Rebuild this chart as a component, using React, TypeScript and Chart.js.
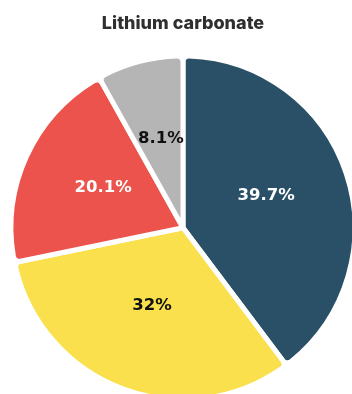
import React, { useEffect, useRef } from "react";
import { Chart, registerables } from "chart.js";

Chart.register(...registerables);

const title = "Lithium carbonate";
const categories = ["A", "B", "C", "D"];
const shares = [39.7, 32, 20.1, 8.1];
const labels = ["39.7%", "32%", "20.1%", "8.1%"];
const colors = ["#2a5068", "#fae04c", "#ec534c", "#b4b5b4"];
const labelColors = ["#ffffff", "#111111", "#ffffff", "#111111"];

const sliceLabels = {
  id: "sliceLabels",
  afterDatasetsDraw(chart: any) {
    const ctx = chart.ctx;
    const meta = chart.getDatasetMeta(0);
    ctx.save();
    ctx.font = "bold 16.5px 'DejaVu Sans'";
    ctx.textAlign = "center";
    ctx.textBaseline = "middle";
    meta.data.forEach((arc: any, i: number) => {
      const { x, y, startAngle, endAngle, outerRadius } = arc.getProps(
        ["x", "y", "startAngle", "endAngle", "outerRadius"],
        true
      );
      const mid = (startAngle + endAngle) / 2;
      const r = outerRadius * 0.51;
      ctx.fillStyle = labelColors[i];
      ctx.fillText(labels[i], x + Math.cos(mid) * r, y + Math.sin(mid) * r - 4);
    });
    ctx.restore();
  },
};

export default function App() {
  const ref = useRef<HTMLCanvasElement | null>(null);
  useEffect(() => {
    if (!ref.current) return;
    const chart = new Chart(ref.current, {
      type: "pie",
      data: {
        labels: categories,
        datasets: [
          {
            data: shares,
            backgroundColor: colors,
            borderColor: "#ffffff",
            borderWidth: 5,
            borderRadius: 6,
            radius: 172,
            clip: false,
          } as any,
        ],
      },
      options: {
        responsive: false,
        animation: false,
        events: [],
        layout: { padding: 0 },
        plugins: {
          legend: { display: false },
          tooltip: { enabled: false },
          title: {
            display: true,
            text: title,
            color: "#2f2f2f",
            font: { family: "Inter", size: 18, weight: "800" },
            padding: { top: 13, bottom: 10 },
          },
        },
      } as any,
      plugins: [sliceLabels],
    });
    return () => chart.destroy();
  }, []);
  return (
    <div style={{ position: "absolute", left: 0, top: 0, width: 366, height: 411 }}>
      <canvas ref={ref} width={366} height={411} style={{ display: "block" }} />
    </div>
  );
}
